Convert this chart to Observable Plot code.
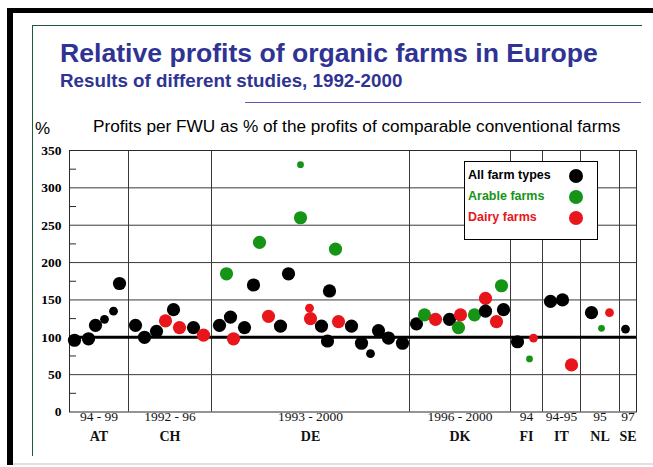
<!DOCTYPE html>
<html>
<head>
<meta charset="utf-8">
<script src="https://cdn.jsdelivr.net/npm/d3@7"></script>
<script src="https://cdn.jsdelivr.net/npm/@observablehq/plot@0.6"></script>
<style>
  html, body { margin: 0; padding: 0; background: #fff; }
  #page { position: relative; width: 653px; height: 467px; overflow: hidden; background: #fff; font-family: "Liberation Sans", Arial, sans-serif; }
  .abs { position: absolute; }
  #title { left: 60px; top: 38px; font-size: 26.6px; font-weight: bold; color: #2f3393; white-space: nowrap; }
  #subtitle { left: 60px; top: 70px; font-size: 18.8px; font-weight: bold; color: #2f3393; white-space: nowrap; }
  #pct { left: 35px; top: 119px; font-size: 17px; color: #000; }
  #heading { left: 93px; top: 116px; font-size: 17.2px; color: #000; white-space: nowrap; }
  #chart { left: 0; top: 140px; }
  #legend { left: 464px; top: 161px; width: 132px; height: 77px; border: 1px solid #000; background: #fff; }
  .lg { position: absolute; left: 3px; font-size: 12.5px; font-weight: bold; white-space: nowrap; }
  .dot { position: absolute; width: 14px; height: 14px; border-radius: 50%; left: 104px; }
</style>
</head>
<body>
<div id="page">
  <div class="abs" style="left:7px;top:8px;width:646px;height:5px;background:#000"></div>
  <div class="abs" style="left:7px;top:8px;width:6px;height:457px;background:#000"></div>
  <div class="abs" style="left:13px;top:463px;width:640px;height:2px;background:#e0e0e0"></div>
  <div class="abs" style="left:32px;top:25px;width:609px;height:430px;border-top:1px solid #1d5a3c;border-left:1px solid #1d5a3c"></div>
  <div class="abs" style="left:245px;top:102px;width:396px;height:1px;background:#5a5ab4"></div>
  <div id="title" class="abs">Relative profits of organic farms in Europe</div>
  <div id="subtitle" class="abs">Results of different studies, 1992-2000</div>
  <div id="pct" class="abs">%</div>
  <div id="heading" class="abs">Profits per FWU as % of the profits of comparable conventional farms</div>
  <div id="chart" class="abs"></div>
  <div id="legend" class="abs"></div>
</div>
<script>
// ---- data ----
const countries = ["AT", "CH", "DE", "DK", "FI", "IT", "NL", "SE"];
const periods = ["94 - 99", "1992 - 96", "1993 - 2000", "1996 - 2000", "94", "94-95", "95", "97"];
// group boundaries along the horizontal study axis (abstract units)
const groupStart = [0, 59, 142, 340, 441, 473, 511, 550];
const groupEnd   = [59, 142, 340, 441, 473, 511, 550, 567];

// individual study results
const pos = [5, 19, 26, 35, 44, 50,
  66, 75, 87, 96, 104, 110, 124, 134,
  150, 157, 161, 164, 175, 184, 190, 199, 211, 219, 231, 231, 240, 241, 252, 258, 260, 266, 269, 282, 292, 301, 309, 319, 333,
  347, 355, 366, 380, 389, 391, 405, 416, 416, 427, 432, 434,
  448, 460, 464,
  481, 493, 502,
  522, 532, 540,
  556];
const profit = [96, 98, 116, 124, 135, 172,
  116, 100, 108, 122, 137, 113, 113, 103,
  116, 185, 127, 98, 113, 170, 227, 128, 115, 185, 331, 260, 139, 125, 115, 95, 162, 218, 121, 115, 92, 78, 109, 99, 92,
  118, 130, 124, 124, 113, 130, 130, 152, 135, 121, 169, 137,
  94, 71, 99,
  148, 150, 63,
  133, 112, 133,
  111];
const farmType = ["all","all","all","all","all","all",
  "all","all","all","dairy","all","dairy","all","dairy",
  "all","arable","all","dairy","all","all","arable","dairy","all","all","arable","arable","dairy","dairy","all","all","all","arable","dairy","all","all","all","all","all","all",
  "all","arable","dairy","all","arable","dairy","arable","dairy","all","dairy","arable","all",
  "all","arable","dairy",
  "all","all","dairy",
  "all","arable","dairy",
  "all"];
const sizeClass = ["L","L","L","S","S","L",
  "L","L","L","L","L","L","L","L",
  "L","L","L","L","L","L","L","L","L","L","T","L","S","L","L","L","L","L","L","L","L","S","L","L","L",
  "L","L","L","L","L","L","L","L","L","L","L","L",
  "L","T","S",
  "L","L","L",
  "L","T","S",
  "S"];
const yTicks = [0, 50, 100, 150, 200, 250, 300, 350];
const yMinor = [25, 75, 125, 175, 225, 275, 325];
const typeKeys = ["all", "arable", "dairy"];
const typeLabels = ["All farm types", "Arable farms", "Dairy farms"];

// ---- build ----
const colors = ["#000000", "#169416", "#e8161b"];
const radius = {L: 6.6, S: 4.4, T: 3.4};
const points = pos.map((p, i) => ({pos: p, profit: profit[i], type: farmType[i], r: radius[sizeClass[i]]}));
const groups = countries.map((c, i) => ({country: c, period: periods[i], start: groupStart[i], end: groupEnd[i], mid: (groupStart[i] + groupEnd[i]) / 2}));

const chart = Plot.plot({
  width: 653,
  height: 315,
  marginLeft: 69,
  marginRight: 17,
  marginTop: 10,
  marginBottom: 43.5,
  x: {domain: [0, 567], axis: null},
  y: {domain: [0, 350], axis: null},
  r: {type: "linear", domain: [0, 10], range: [0, 10]},
  color: {domain: typeKeys, range: colors},
  style: {background: "transparent"},
  marks: [
    Plot.ruleY(yTicks.filter(d => d > 0 && d < 350 && d !== 100), {stroke: "#3a3a3a", strokeWidth: 1}),
    Plot.ruleX(groupStart.filter(d => d > 0), {stroke: "#3a3a3a", strokeWidth: 1}),
    Plot.frame({stroke: "#2a2a2a", strokeWidth: 1}),
    Plot.axisY({ticks: yMinor, tickSize: -7, tickFormat: () => "", label: null, stroke: "#2a2a2a"}),
    Plot.axisY({ticks: yTicks, tickSize: 0, tickPadding: 8, label: null, fontSize: 13.5, fontWeight: "bold", fontFamily: "Liberation Serif, serif", fill: "#000"}),
    Plot.ruleY([100], {stroke: "#000", strokeWidth: 3}),
    Plot.dot(points, {x: "pos", y: "profit", r: "r", fill: "type", stroke: "none"}),
    Plot.text(groups, {x: "mid", text: "period", frameAnchor: "bottom", dy: 9, fontSize: 13.5, fontFamily: "Liberation Serif, serif", fill: "#111"}),
    Plot.text(groups, {x: "mid", text: "country", frameAnchor: "bottom", dy: 29, fontSize: 14, fontWeight: "bold", fontFamily: "Liberation Serif, serif", fill: "#111"})
  ]
});
document.getElementById("chart").appendChild(chart);

// legend
const legend = document.getElementById("legend");
const lgTops = [6, 27, 48];
typeLabels.forEach((t, i) => {
  const s = document.createElement("div");
  s.className = "lg";
  s.style.top = lgTops[i] + "px";
  s.style.color = colors[i];
  s.textContent = t;
  legend.appendChild(s);
  const d = document.createElement("div");
  d.className = "dot";
  d.style.top = (lgTops[i] + 1) + "px";
  d.style.background = colors[i];
  legend.appendChild(d);
});
</script>
</body>
</html>
